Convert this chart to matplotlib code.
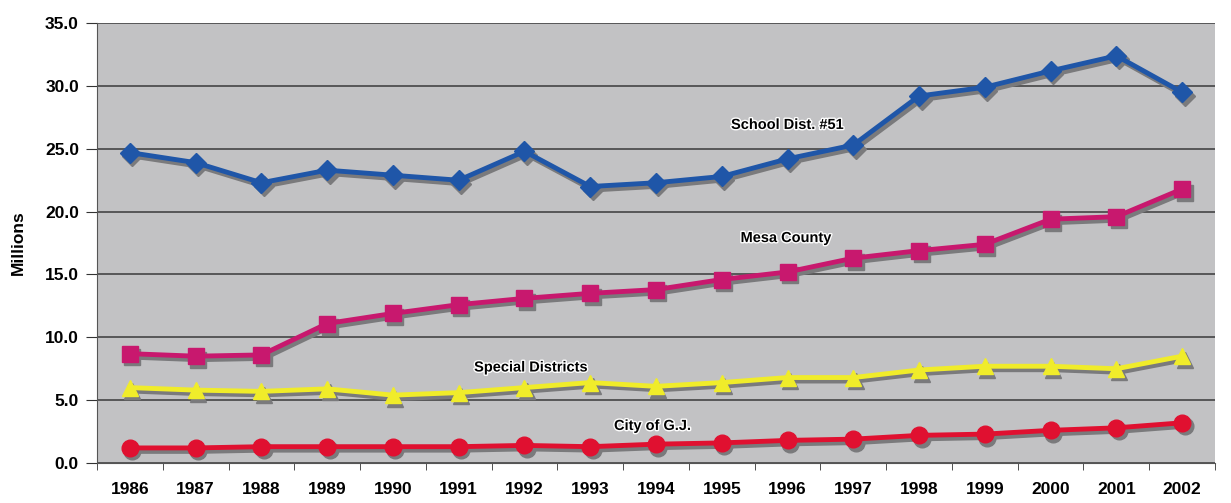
import matplotlib
matplotlib.use('Agg')
import matplotlib.pyplot as plt
import matplotlib.patheffects as pe
import matplotlib.transforms as mtransforms
import numpy as np

years = ['1986', '1987', '1988', '1989', '1990', '1991', '1992', '1993', '1994',
         '1995', '1996', '1997', '1998', '1999', '2000', '2001', '2002']

school_dist = [24.7, 23.9, 22.3, 23.3, 22.9, 22.5, 24.8, 22.0, 22.3,
               22.8, 24.2, 25.3, 29.2, 29.9, 31.2, 32.4, 29.5]
mesa_county = [8.7, 8.5, 8.6, 11.1, 11.9, 12.6, 13.1, 13.5, 13.8,
               14.6, 15.2, 16.3, 16.9, 17.4, 19.4, 19.6, 21.8]
special_districts = [6.0, 5.8, 5.7, 5.9, 5.4, 5.6, 6.0, 6.4, 6.1,
                     6.4, 6.8, 6.8, 7.4, 7.7, 7.7, 7.5, 8.5]
city_gj = [1.2, 1.2, 1.3, 1.3, 1.3, 1.3, 1.4, 1.3, 1.5,
           1.6, 1.8, 1.9, 2.2, 2.3, 2.6, 2.8, 3.2]

plt.rcParams['font.family'] = ['Liberation Sans', 'DejaVu Sans']

fig = plt.figure(figsize=(12.31, 5.03), dpi=100)
ax = fig.add_axes([0.0788, 0.0795, 0.9082, 0.8745])
ax.set_facecolor('#c2c2c4')

x = np.arange(len(years))
shadow_tr = mtransforms.offset_copy(ax.transData, fig=fig, x=2.5, y=-3.5, units='dots')

series = [
    (school_dist, '#1f56a8', 'D', 10),
    (mesa_county, '#c8186e', 's', 11),
    (special_districts, '#f0ec2a', '^', 12),
    (city_gj, '#e01030', 'o', 12),
]
for vals, col, mk, size in series:
    # gray drop shadow first, then the real line
    ax.plot(x, vals, color='#7a7a7c', lw=3.5, marker=mk, ms=size, transform=shadow_tr, zorder=4)
    ax.plot(x, vals, color=col, lw=3.5, marker=mk, ms=size, zorder=5)

halo = [pe.withStroke(linewidth=2, foreground='white')]
ax.text(10.0, 26.9, 'School Dist. #51', fontsize=10.5, fontweight='bold', ha='center', va='center', path_effects=halo, zorder=6)
ax.text(9.98, 17.9, 'Mesa County', fontsize=10.5, fontweight='bold', ha='center', va='center', path_effects=halo, zorder=6)
ax.text(6.1, 7.6, 'Special Districts', fontsize=10.5, fontweight='bold', ha='center', va='center', path_effects=halo, zorder=6)
ax.text(7.95, 2.95, 'City of G.J.', fontsize=10.5, fontweight='bold', ha='center', va='center', path_effects=halo, zorder=6)

ax.set_xlim(-0.5, len(years) - 0.5)
ax.set_ylim(0, 35)
ax.set_yticks(np.arange(0, 35.1, 5))
ax.set_yticklabels([f'{v:.1f}' for v in np.arange(0, 35.1, 5)], fontsize=12.5, fontweight='bold')
ax.set_xticks(x)
ax.set_xticklabels(years, fontsize=12.5, fontweight='bold')
ax.set_xticks(np.arange(-0.5, len(years)), minor=True)
ax.tick_params(axis='x', which='major', length=0, pad=14)
ax.tick_params(axis='x', which='minor', length=5, direction='out', color='#333333')
ax.tick_params(axis='y', length=8, color='#333333', pad=5)
ax.grid(axis='y', color='#3a3a3a', lw=1.1, zorder=1)
ax.set_axisbelow(True)

for side in ['top', 'right']:
    ax.spines[side].set_visible(False)
ax.spines['left'].set_color('#555555')
ax.spines['bottom'].set_color('#555555')

ax.set_ylabel('Millions', fontsize=12.5, fontweight='bold', labelpad=14)

fig.savefig('out.png', dpi=100)
